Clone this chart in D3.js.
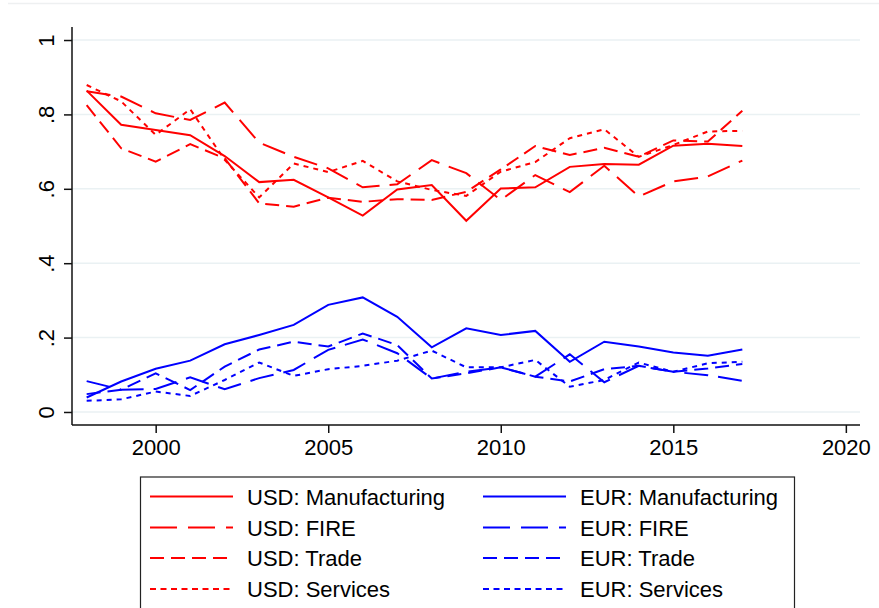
<!DOCTYPE html>
<html>
<head>
<meta charset="utf-8">
<script src="https://cdn.jsdelivr.net/npm/d3@7"></script>
<style>
  body { margin: 0; background: #fff; }
  text { font-family: "Liberation Sans", Arial, sans-serif; fill: #000; }
</style>
</head>
<body>
<svg id="chart" width="879" height="608"></svg>
<script>
// values
const years = d3.range(1998, 2018)
const yTicks = [0, 0.2, 0.4, 0.6, 0.8, 1]
const yTickLabels = ['0', '.2', '.4', '.6', '.8', '1']
const xTicks = [2000, 2005, 2010, 2015, 2020]

const usdManufacturing = [.864, .772, .758, .744, .688, .618, .624, .577, .528, .598, .610, .514, .601, .604, .659, .667, .665, .716, .721, .715]
const usdFire = [.862, .848, .803, .785, .832, .724, .686, .655, .604, .612, .677, .642, .570, .637, .591, .662, .579, .620, .633, .676]
const usdTrade = [.825, .709, .673, .720, .682, .561, .552, .576, .565, .572, .570, .592, .652, .715, .691, .710, .686, .730, .727, .810]
const usdServices = [.879, .835, .745, .814, .678, .577, .668, .645, .675, .620, .597, .581, .646, .672, .736, .760, .686, .718, .754, .756]

const eurManufacturing = [.039, .082, .116, .138, .182, .207, .234, .288, .308, .256, .174, .225, .207, .218, .135, .189, .176, .160, .151, .168]
const eurFire = [.083, .060, .062, .093, .061, .091, .113, .167, .195, .158, .090, .108, .120, .095, .155, .080, .124, .108, .099, .084]
const eurTrade = [.048, .060, .104, .059, .122, .168, .189, .176, .211, .180, .090, .104, .120, .095, .082, .115, .124, .108, .117, .129]
const eurServices = [.030, .034, .055, .043, .086, .133, .097, .115, .124, .138, .165, .120, .120, .140, .068, .086, .133, .108, .131, .135]

const dashes = { solid: null, fire: '24,10', trade: '14,7', services: '5,5' }

const series = [
  { name: 'USD: Manufacturing', values: usdManufacturing, color: '#ff0000', dash: dashes.solid },
  { name: 'USD: FIRE', values: usdFire, color: '#ff0000', dash: dashes.fire },
  { name: 'USD: Trade', values: usdTrade, color: '#ff0000', dash: dashes.trade },
  { name: 'USD: Services', values: usdServices, color: '#ff0000', dash: dashes.services },
  { name: 'EUR: Manufacturing', values: eurManufacturing, color: '#0000ff', dash: dashes.solid },
  { name: 'EUR: FIRE', values: eurFire, color: '#0000ff', dash: dashes.fire },
  { name: 'EUR: Trade', values: eurTrade, color: '#0000ff', dash: dashes.trade },
  { name: 'EUR: Services', values: eurServices, color: '#0000ff', dash: dashes.services }
]

const svg = d3.select('#chart')
const plotLeft = 72, plotRight = 860, plotTop = 27, plotBottom = 425

const x = d3.scaleLinear().domain([1997.575, 2020.41]).range([plotLeft, plotRight])
const y = d3.scaleLinear().domain([-0.035, 1.035]).range([plotBottom, plotTop])

// faint outer frame line at top
svg.append('line')
  .attr('x1', 8).attr('x2', 879).attr('y1', 3.5).attr('y2', 3.5)
  .attr('stroke', '#eef0f1').attr('stroke-width', 1.5)

// gridlines
svg.append('g')
  .selectAll('line')
  .data(yTicks)
  .enter()
  .append('line')
  .attr('x1', plotLeft).attr('x2', plotRight)
  .attr('y1', d => y(d)).attr('y2', d => y(d))
  .attr('stroke', '#eaf1f3').attr('stroke-width', 1.5)

// lines
const line = d3.line()
  .x((d, i) => x(years[i]))
  .y(d => y(d))

svg.append('g')
  .selectAll('path')
  .data(series)
  .enter()
  .append('path')
  .attr('d', d => line(d.values))
  .attr('fill', 'none')
  .attr('stroke', d => d.color)
  .attr('stroke-width', 2)
  .attr('stroke-dasharray', d => d.dash)

// y axis
const yAxis = d3.axisLeft(y).tickValues(yTicks).tickSize(8).tickFormat((d, i) => yTickLabels[i])
const gy = svg.append('g').attr('transform', `translate(${plotLeft},0)`).call(yAxis)
gy.select('.domain').attr('d', `M0,${plotTop}V${plotBottom}`).attr('stroke', '#111').attr('stroke-width', 1.5)
gy.selectAll('.tick line').attr('stroke', '#111').attr('stroke-width', 1.5)
gy.selectAll('.tick text')
  .attr('x', null).attr('dy', null)
  .attr('transform', 'translate(-18.5,0) rotate(-90)')
  .attr('text-anchor', 'middle')
  .style('font-size', '22px')
  .style('font-family', '"Liberation Sans", Arial, sans-serif')

// x axis
const xAxis = d3.axisBottom(x).tickValues(xTicks).tickSize(8).tickFormat(d3.format('d'))
const gx = svg.append('g').attr('transform', `translate(0,${plotBottom})`).call(xAxis)
gx.select('.domain').attr('d', `M${plotLeft},0H${plotRight}`).attr('stroke', '#111').attr('stroke-width', 1.5)
gx.selectAll('.tick line').attr('stroke', '#111').attr('stroke-width', 1.5)
gx.selectAll('.tick text')
  .attr('y', 30).attr('dy', null)
  .style('font-size', '22px')
  .style('font-family', '"Liberation Sans", Arial, sans-serif')

// legend
const legend = svg.append('g')
legend.append('rect')
  .attr('x', 140.5).attr('y', 477).attr('width', 654).attr('height', 140)
  .attr('fill', '#fff').attr('stroke', '#222').attr('stroke-width', 1.2)

const rowY = [496.5, 527.5, 558, 589]
const colX = [150, 483]

const items = legend.selectAll('g.item')
  .data(series)
  .enter()
  .append('g')
  .attr('class', 'item')
  .attr('transform', (d, i) => `translate(${colX[Math.floor(i / 4)]},${rowY[i % 4]})`)

items.append('line')
  .attr('x1', 0).attr('x2', 83)
  .attr('stroke', d => d.color)
  .attr('stroke-width', 2)
  .attr('stroke-dasharray', (d, i) => {
    if (i % 4 === 1) return '27,11'
    if (i % 4 === 2) return '14,7'
    if (i % 4 === 3) return '6,4.5'
    return null
  })

items.append('text')
  .attr('x', 97)
  .attr('y', 8)
  .style('font-size', '22px')
  .text(d => d.name)
</script>
</body>
</html>
